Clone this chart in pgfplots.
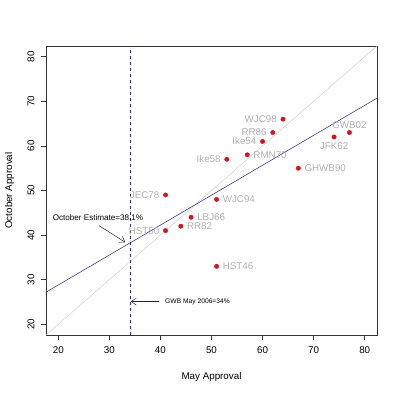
\documentclass[border=0pt]{standalone}
\usepackage{fontspec}
\setmainfont{Liberation Sans}
\usepackage{pgfplots}
\pgfplotsset{compat=1.18}
\usepackage{pgfplotstable}
\usetikzlibrary{arrows.meta}
\definecolor{ptred}{RGB}{210,20,30}
\definecolor{labgray}{RGB}{175,175,175}
\definecolor{diaggray}{RGB}{205,205,205}
\definecolor{regblue}{RGB}{60,60,135}
\definecolor{dashblue}{RGB}{40,40,150}
\pgfplotstableread{
x y lab
64 66 WJC98
62 63 RR86
60 61 Ike54
53 57 Ike58
41 49 JEC78
41 41 HST50
}\leftpts
\pgfplotstableread{
x y lab
57 58 RMN70
67 55 GHWB90
51 48 WJC94
46 44 LBJ66
44 42 RR82
51 33 HST46
}\rightpts
\pgfplotstableread{
x y lab
74 62 JFK62
}\belowpts
\pgfplotstableread{
x y lab
77 63 GWB02
}\abovepts
\begin{document}
\begin{tikzpicture}
\useasboundingbox (-46pt,-58pt) rectangle (354pt,335pt);
\begin{axis}[
  at={(0,0)}, anchor=south west,
  width=331pt, height=289pt, scale only axis,
  xmin=17.6, xmax=82.4, ymin=17.6, ymax=82.4,
  xtick={20,30,...,80}, ytick={20,30,...,80},
  tick align=outside, major tick length=5pt,
  tick style={black!80, line width=0.5pt},
  axis line style={black!80, line width=0.6pt},
  xtick pos=bottom, ytick pos=left,
  /pgf/number format/assume math mode=true,
  tick label style={font=\fontsize{9.8}{11}\selectfont},
  xticklabel style={yshift=-3pt},
  yticklabel style={xshift=-3pt, rotate=90, anchor=south},
  every axis x label/.style={at={(axis description cs:0.5,-0.1436)}, anchor=center},
  every axis y label/.style={at={(axis description cs:-0.1103,0.5)}, rotate=90, anchor=center},
  label style={font=\fontsize{9.8}{11}\selectfont},
  xlabel={May Approval}, ylabel={October Approval},
  clip=false,
]
\addplot[diaggray, line width=0.5pt] coordinates {(17.6,17.6) (82.4,82.4)};
\addplot[regblue, line width=0.6pt] coordinates {(17.6,27.2) (82.4,70.7)};
\addplot[dashblue, line width=0.5pt, dash pattern=on 3pt off 3pt] coordinates {(34,17.6) (34,82.4)};
\addplot[only marks, mark=*, mark size=2.2pt, ptred, point meta=explicit symbolic,
  nodes near coords, every node near coord/.style={anchor=east, labgray, xshift=-5pt, inner sep=1pt, font=\fontsize{9.8}{11}\selectfont}]
  table[meta=lab] {\leftpts};
\addplot[only marks, mark=*, mark size=2.2pt, ptred, point meta=explicit symbolic,
  nodes near coords, every node near coord/.style={anchor=west, labgray, xshift=5pt, inner sep=1pt, font=\fontsize{9.8}{11}\selectfont}]
  table[meta=lab] {\rightpts};
\addplot[only marks, mark=*, mark size=2.2pt, ptred, point meta=explicit symbolic,
  nodes near coords, every node near coord/.style={anchor=north, labgray, yshift=-4pt, inner sep=1pt, font=\fontsize{9.8}{11}\selectfont}]
  table[meta=lab] {\belowpts};
\addplot[only marks, mark=*, mark size=2.2pt, ptred, point meta=explicit symbolic,
  nodes near coords, every node near coord/.style={anchor=south, labgray, yshift=3pt, inner sep=1pt, font=\fontsize{9.8}{11}\selectfont}]
  table[meta=lab] {\abovepts};
\node[anchor=west, inner sep=0pt, font=\fontsize{8.1}{9}\selectfont] at (axis cs:18.9,44) {October Estimate=38.1\%};
\draw[black!85, line width=0.5pt, -{Straight Barb[length=5pt,width=7pt]}] (axis cs:28,42.1) -- (axis cs:33.1,38.4);
\node[anchor=west, inner sep=0pt, font=\fontsize{6.7}{8}\selectfont] at (axis cs:40.9,25.1) {GWB May 2006=34\%};
\draw[black!85, line width=0.5pt, -{Straight Barb[length=5pt,width=7pt]}] (axis cs:39.8,25.1) -- (axis cs:34.2,25.1);
\end{axis}
\end{tikzpicture}
\end{document}
